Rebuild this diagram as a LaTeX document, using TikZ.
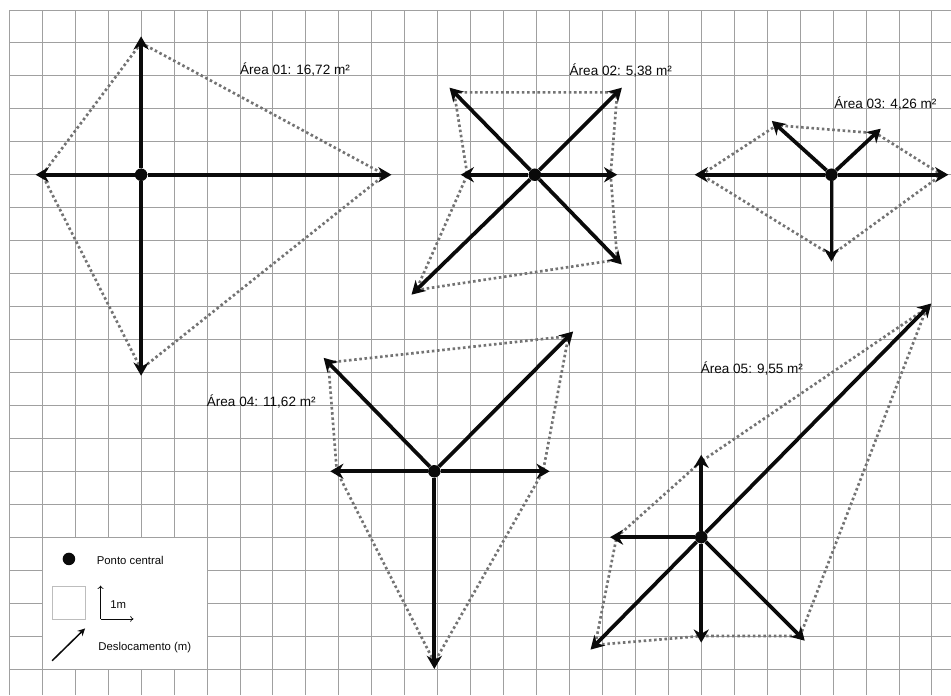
\documentclass[tikz,border=0pt]{standalone}
\usepackage{fontspec}
\setmainfont{Liberation Sans}
\usepackage{tikz}
\usetikzlibrary{arrows.meta}
\definecolor{gridGray}{RGB}{160,160,160}
\definecolor{hullGray}{RGB}{115,115,115}
\definecolor{inkBlack}{RGB}{10,10,10}
\tikzset{
  grid line/.style={draw=gridGray,line width=0.75pt},
  disp arrow/.style={-{Stealth[length=4mm,width=4.6mm,inset=1.3mm]},line width=3.2pt,draw=inkBlack,shorten >=-2mm},
  hull line/.style={draw=hullGray,line width=2.3pt,dash pattern=on 2.2pt off 2.3pt},
  center dot/.style={circle,fill=inkBlack,inner sep=0pt,minimum size=3.8mm},
  area label/.style={anchor=base west,inner sep=0pt,text=inkBlack,font=\fontsize{11.7}{13}\selectfont},
  legend label/.style={anchor=base west,inner sep=0pt,text=inkBlack,font=\fontsize{9.8}{11}\selectfont}
}
\begin{document}
\begin{tikzpicture}
  \useasboundingbox (-0.282,0.303) rectangle (28.58,-20.79);
  \fill[white] (-0.282,0.303) rectangle (28.58,-20.79);
  \draw[grid line] (0,-20.79) grid (28.58,0);

  % area 01
  \node[center dot] (c1) at (4,-5) {};
  \coordinate (a1n) at (4,-1);
  \coordinate (a1w) at (1,-5);
  \coordinate (a1e) at (11.4,-5);
  \coordinate (a1s) at (4,-10.9);
  \draw[hull line] (a1n) -- (a1e) -- (a1s) -- (a1w) -- cycle;
  \foreach \t in {a1n,a1w,a1e,a1s} \draw[disp arrow] (c1) -- (\t);
  \node[area label] (lab1) at (7,-1.97) {Área 01: 16,72 m²};

  % area 02
  \node[center dot] (c2) at (15.95,-5) {};
  \coordinate (a2ul) at (13.5,-2.5);
  \coordinate (a2ur) at (18.45,-2.5);
  \coordinate (a2w) at (13.9,-5);
  \coordinate (a2e) at (18.25,-5);
  \coordinate (a2dr) at (18.45,-7.58);
  \coordinate (a2dl) at (12.35,-8.5);
  \draw[hull line] (a2ul) -- (a2ur) -- (a2e) -- (a2dr) -- (a2dl) -- (a2w) -- cycle;
  \foreach \t in {a2ul,a2ur,a2w,a2e,a2dr,a2dl} \draw[disp arrow] (c2) -- (\t);
  \node[area label] (lab2) at (17,-1.98) {Área 02: 5,38 m²};

  % area 03
  \node[center dot] (c3) at (24.95,-5) {};
  \coordinate (a3w) at (21,-5);
  \coordinate (a3e) at (28.3,-5);
  \coordinate (a3s) at (24.95,-7.44);
  \coordinate (a3ul) at (23.29,-3.5);
  \coordinate (a3ur) at (26.3,-3.74);
  \draw[hull line] (a3w) -- (a3ul) -- (a3ur) -- (a3e) -- (a3s) -- cycle;
  \foreach \t in {a3w,a3e,a3s,a3ul,a3ur} \draw[disp arrow] (c3) -- (\t);
  \node[area label] (lab3) at (25.03,-2.99) {Área 03: 4,26 m²};

  % area 04
  \node[center dot] (c4) at (12.9,-14) {};
  \coordinate (a4ul) at (9.68,-10.7);
  \coordinate (a4ur) at (16.97,-9.9);
  \coordinate (a4w) at (9.94,-14);
  \coordinate (a4e) at (16.2,-14);
  \coordinate (a4s) at (12.9,-19.8);
  \draw[hull line] (a4ul) -- (a4ur) -- (a4e) -- (a4s) -- (a4w) -- cycle;
  \foreach \t in {a4ul,a4ur,a4w,a4e,a4s} \draw[disp arrow] (c4) -- (\t);
  \node[area label] (lab4) at (5.99,-12.04) {Área 04: 11,62 m²};

  % area 05
  \node[center dot] (c5) at (21,-16) {};
  \coordinate (a5n) at (21,-13.7);
  \coordinate (a5w) at (18.43,-16);
  \coordinate (a5s) at (21,-19);
  \coordinate (a5dr) at (24,-19);
  \coordinate (a5dl) at (17.78,-19.27);
  \coordinate (a5ur) at (27.84,-9.05);
  \draw[hull line] (a5ur) -- (a5dr) -- (a5s) -- (a5dl) -- (a5w) -- (a5n) -- cycle;
  \foreach \t in {a5n,a5w,a5s,a5dr,a5dl,a5ur} \draw[disp arrow] (c5) -- (\t);
  \node[area label] (lab5) at (20.98,-11.03) {Área 05: 9,55 m²};

  % legend
  \node[draw=gridGray,fill=white,line width=0.75pt,minimum width=5cm,minimum height=4cm,inner sep=0pt] (legend) at (3.5,-18) {};
  \node[center dot] (keydot) at (1.81,-16.66) {};
  \node[legend label] (keydottext) at (2.65,-16.84) {Ponto central};
  \node[draw=gridGray!70,line width=0.6pt,minimum size=1cm,inner sep=0pt] (keycell) at (1.81,-17.98) {};
  \coordinate (axo) at (2.77,-18.48);
  \coordinate (axy) at (2.77,-17.47);
  \coordinate (axx) at (3.77,-18.48);
  \draw[-{To[length=1mm,width=1.8mm]},line width=0.6pt,draw=inkBlack] (axo) -- (axy);
  \draw[-{To[length=1mm,width=1.8mm]},line width=0.6pt,draw=inkBlack] (axo) -- (axx);
  \node[legend label] (keyunit) at (3.06,-18.15) {1m};
  \coordinate (keyfrom) at (1.3,-19.75);
  \coordinate (keyto) at (2.3,-18.77);
  \draw[-{Stealth[length=2.2mm,width=2.2mm]},line width=1.3pt,draw=inkBlack] (keyfrom) -- (keyto);
  \node[legend label] (keyarrowtext) at (2.7,-19.44) {Deslocamento (m)};
\end{tikzpicture}
\end{document}
